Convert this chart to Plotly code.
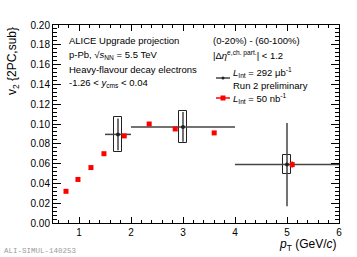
import plotly.graph_objects as go

# ---- data ----
red_x = [0.75, 0.98, 1.23, 1.48, 1.87, 2.35, 2.85, 3.6, 5.1]
red_y = [0.032, 0.044, 0.056, 0.070, 0.088, 0.100, 0.095, 0.091, 0.059]
red_err = [0.0008, 0.0008, 0.0008, 0.0008, 0.001, 0.0015, 0.0015, 0.0015, 0.003]

blk_x = [1.75, 3.0, 5.0]
blk_y = [0.0895, 0.097, 0.059]
blk_xerr = [0.25, 1.0, 1.0]
blk_stat = [0.016, 0.015, 0.042]
blk_sys = [0.0175, 0.016, 0.010]

x_ticks = [1, 2, 3, 4, 5, 6]
y_ticks = [0.00, 0.02, 0.04, 0.06, 0.08, 0.10, 0.12, 0.14, 0.16, 0.18, 0.20]

W, H = 357, 257
L, R, T, B = 53, 18, 25, 34
PW, PH = W - L - R, H - T - B
FONT = "Liberation Sans, Arial, Helvetica, sans-serif"


def px(x):
    return (x - L) / PW


def py(y):
    return (H - B - y) / PH


fig = go.Figure()

# systematic boxes
fig.add_trace(go.Bar(
    x=blk_x, y=[2 * s for s in blk_sys], base=[v - s for v, s in zip(blk_y, blk_sys)],
    width=0.15, marker=dict(color="rgba(0,0,0,0)", line=dict(color="#222", width=1)),
    showlegend=False, hoverinfo="skip"))

# black points with stat errors
fig.add_trace(go.Scatter(
    x=blk_x, y=blk_y, mode="markers",
    marker=dict(color="#222", size=4, symbol="circle"),
    error_x=dict(type="data", array=blk_xerr, color="#444", thickness=1.5, width=0),
    error_y=dict(type="data", array=blk_stat, color="#444", thickness=1.5, width=0),
    showlegend=False))

# red points
fig.add_trace(go.Scatter(
    x=red_x, y=red_y, mode="markers",
    marker=dict(color="#ff0000", size=5, symbol="square"),
    error_y=dict(type="data", array=red_err, color="#ff0000", thickness=1.5, width=0),
    showlegend=False))

ann = []


def txt(x, y, s, size=9.5, anchor="left"):
    ann.append(dict(x=px(x), y=py(y), xref="paper", yref="paper", text=s,
                    showarrow=False, xanchor=anchor, yanchor="middle",
                    font=dict(family=FONT, size=size, color="black")))


txt(67, 41, "ALICE Upgrade projection")
txt(67, 55, "p-Pb, √<i>s</i><sub>NN</sub> = 5.5 TeV")
txt(67, 69, "Heavy-flavour decay electrons")
txt(67, 83, "-1.26 &lt; <i>y</i><sub>cms</sub> &lt; 0.04")
txt(211, 41, "(0-20%) - (60-100%)")
txt(211, 55, "|Δ<i>η</i><sup>e,ch. part.</sup>| &lt; 1.2")
txt(231, 72, "<i>L</i><sub>Int</sub> = 292 μb<sup>-1</sup>")
txt(231, 85, "Run 2 preliminary")
txt(231, 98, "<i>L</i><sub>Int</sub> = 50 nb<sup>-1</sup>")

# axis titles
ann.append(dict(x=1.0, y=py(245), xref="paper", yref="paper",
                text="<i>p</i><sub>T</sub> (GeV/<i>c</i>)", showarrow=False,
                xanchor="right", yanchor="middle",
                font=dict(family=FONT, size=12, color="black")))
ann.append(dict(x=px(13), y=py(61), xref="paper", yref="paper",
                text="v<sub>2</sub> {2PC,sub}", showarrow=False, textangle=-90,
                xanchor="center", yanchor="middle",
                font=dict(family=FONT, size=12, color="black")))
ann.append(dict(x=px(2), y=py(251), xref="paper", yref="paper",
                text="ALI-SIMUL-140253", showarrow=False,
                xanchor="left", yanchor="middle",
                font=dict(family="Liberation Mono, monospace", size=7.5, color="#9a9a9a")))

shapes = [
    dict(type="line", xref="paper", yref="paper", x0=px(216), x1=px(230), y0=py(78), y1=py(78),
         line=dict(color="#444", width=1.5)),
    dict(type="circle", xref="paper", yref="paper", x0=px(221.5), x1=px(224.5), y0=py(76.5), y1=py(79.5),
         fillcolor="#222", line=dict(color="#222", width=0)),
    dict(type="line", xref="paper", yref="paper", x0=px(216), x1=px(230), y0=py(98), y1=py(98),
         line=dict(color="#ff0000", width=1.5)),
    dict(type="rect", xref="paper", yref="paper", x0=px(220.5), x1=px(225.5), y0=py(95.5), y1=py(100.5),
         fillcolor="#ff0000", line=dict(color="#ff0000", width=0)),
]

fig.update_layout(
    width=W, height=H, margin=dict(l=L, r=R, t=T, b=B),
    paper_bgcolor="white", plot_bgcolor="white",
    font=dict(family=FONT, size=10, color="black"),
    annotations=ann, shapes=shapes, showlegend=False, bargap=0,
    xaxis=dict(range=[0.5, 6], tickvals=x_ticks, ticktext=[str(v) for v in x_ticks],
               ticks="inside", ticklen=6, tickcolor="black", showgrid=False, zeroline=False,
               showline=True, linecolor="black", linewidth=1, mirror="allticks",
               tickfont=dict(size=10),
               minor=dict(dtick=0.2, tick0=0, ticks="inside", ticklen=3, tickcolor="black", showgrid=False)),
    yaxis=dict(range=[0, 0.2], tickvals=y_ticks, ticktext=[f"{v:.2f}" for v in y_ticks],
               ticks="inside", ticklen=8, tickcolor="black", showgrid=False, zeroline=False,
               showline=True, linecolor="black", linewidth=1, mirror="allticks",
               tickfont=dict(size=10),
               minor=dict(dtick=0.004, tick0=0, ticks="inside", ticklen=4, tickcolor="black", showgrid=False)),
)

fig.write_html("out.html", config={"displayModeBar": False},
               post_script="document.body.style.margin='0';document.body.style.padding='0';document.body.style.overflow='hidden';")
